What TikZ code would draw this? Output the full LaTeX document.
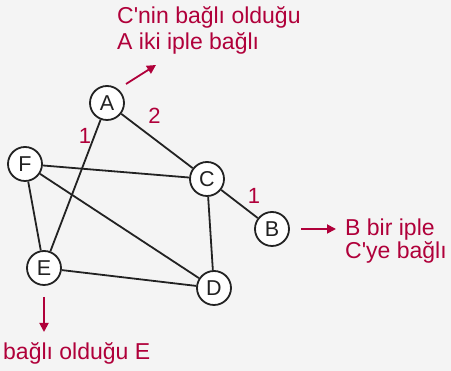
\documentclass[tikz,border=0pt]{standalone}
\usepackage{fontspec}
\setmainfont{Liberation Sans}[Ligatures=TeXOff]
\usetikzlibrary{arrows.meta}
\definecolor{bg}{HTML}{F4F4F4}
\definecolor{crim}{HTML}{B0003A}
\definecolor{ink}{HTML}{222222}
\begin{document}
\begin{tikzpicture}[x=1pt,y=-1pt,
  vert/.style={circle,draw=ink,line width=1.8pt,fill=white,minimum size=34pt,inner sep=0pt,
    font=\fontsize{21.5}{24}\selectfont,text=ink},
  edge/.style={draw=ink,line width=1.8pt},
  wlabel/.style={text=crim,font=\fontsize{22}{24}\selectfont,inner sep=0pt},
  note/.style={text=crim,align=left,inner sep=0pt,anchor=base west},
  arr/.style={draw=crim,line width=1.8pt,-{Triangle[length=9pt,width=9pt]}}]
\fill[bg] (0,0) rectangle (451,371);
\useasboundingbox (0,0) rectangle (451,371);
\coordinate (pA) at (107,103);
\coordinate (pF) at (25,164);
\coordinate (pC) at (207,179);
\coordinate (pB) at (272,229);
\coordinate (pD) at (214,288);
\coordinate (pE) at (44,268);
\node[vert] (A) at (pA) {A};
\node[vert] (F) at (pF) {F};
\node[vert] (C) at (pC) {C};
\node[vert] (B) at (pB) {B};
\node[vert] (D) at (pD) {D};
\node[vert] (E) at (pE) {E};
\draw[edge] (A) -- (C);
\draw[edge] (A) -- (E);
\draw[edge] (F) -- (C);
\draw[edge] (F) -- (E);
\draw[edge] (F) -- (D);
\draw[edge] (C) -- (D);
\draw[edge] (C) -- (B);
\draw[edge] (E) -- (D);
\node[wlabel] (w1) at (85,136) {1};
\node[wlabel] (w2) at (154.5,116) {2};
\node[wlabel] (w3) at (254,196) {1};
\node[note,font=\fontsize{23}{26.5}\selectfont] (nA) at (117,50) {C'nin bağlı olduğu\\A iki iple bağlı};
\node[note,font=\fontsize{23}{23}\selectfont] (nB) at (345,259) {B bir iple\\C'ye bağlı};
\node[note,font=\fontsize{23}{23}\selectfont] (nE) at (3,360) {bağlı olduğu E};
\coordinate (a1s) at (126,84);
\coordinate (a1e) at (156,65);
\coordinate (a2s) at (301,229);
\coordinate (a2e) at (336,229);
\coordinate (a3s) at (44,297);
\coordinate (a3e) at (44,332);
\draw[arr] (a1s) -- (a1e);
\draw[arr] (a2s) -- (a2e);
\draw[arr] (a3s) -- (a3e);
\end{tikzpicture}
\end{document}
